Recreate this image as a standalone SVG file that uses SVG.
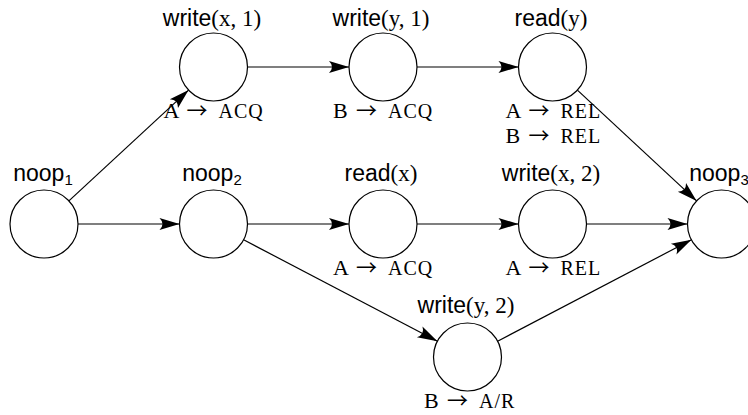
<svg xmlns="http://www.w3.org/2000/svg" width="748" height="415" viewBox="0 0 748 415">
<style>
.node circle{fill:#fff;stroke:#000;stroke-width:1.2}
.edges line{stroke:#000;stroke-width:1.2;marker-end:url(#arr)}
.lab{font-family:"Liberation Sans",Arial,sans-serif;font-size:23px;fill:#000;text-anchor:middle}
.m{font-family:"Liberation Serif","Times New Roman",serif;font-size:23px}
.sub{font-size:15px}
.ann{font-family:"Liberation Serif","Times New Roman",serif;font-size:22px;fill:#000}
.ar{font-family:"Noto Sans CJK SC","DejaVu Sans",sans-serif;font-size:21px}
.sc{font-size:20px;letter-spacing:1px}
</style>
<defs>
<marker id="arr" markerUnits="userSpaceOnUse" markerWidth="24" markerHeight="14" viewBox="-22 -7 24 14" refX="0" refY="0" orient="auto">
<path d="M0,0 L-20,-6 Q-14,0 -20,6 Z" fill="#000"/>
</marker>
</defs>
<g id="edges" class="edges">
<line x1="68.9" y1="200.9" x2="188.6" y2="90.1"/>
<line x1="78" y1="224" x2="179.5" y2="224"/>
<line x1="247.5" y1="67" x2="349" y2="67"/>
<line x1="417" y1="67" x2="518.5" y2="67"/>
<line x1="577.4" y1="90.1" x2="696.6" y2="200.9"/>
<line x1="247.5" y1="224" x2="349" y2="224"/>
<line x1="417" y1="224" x2="518.5" y2="224"/>
<line x1="586.5" y1="224" x2="687.5" y2="224"/>
<line x1="243.6" y1="239.8" x2="437.4" y2="341.2"/>
<line x1="497.6" y1="341.2" x2="691.4" y2="239.8"/>
</g>
<g id="noop1" class="node">
<circle cx="44" cy="224" r="34"/>
<text class="lab" x="43" y="181">noop<tspan class="sub" dy="4">1</tspan></text>
</g>
<g id="noop2" class="node">
<circle cx="213.5" cy="224" r="34"/>
<text class="lab" x="212" y="181">noop<tspan class="sub" dy="4">2</tspan></text>
</g>
<g id="write_x1" class="node">
<circle cx="213.5" cy="67" r="34"/>
<text class="lab" x="212" y="26">write<tspan class="m">(x, 1)</tspan></text>
<text class="ann" x="163.5" y="118">A<tspan class="ar" x="186.5">→</tspan><tspan class="sc" x="218.5">ACQ</tspan></text>
</g>
<g id="write_y1" class="node">
<circle cx="383" cy="67" r="34"/>
<text class="lab" x="381" y="26">write<tspan class="m">(y, 1)</tspan></text>
<text class="ann" x="333" y="118">B<tspan class="ar" x="356">→</tspan><tspan class="sc" x="388">ACQ</tspan></text>
</g>
<g id="read_y" class="node">
<circle cx="552.5" cy="67" r="34"/>
<text class="lab" x="551" y="26">read<tspan class="m">(y)</tspan></text>
<text class="ann" x="505.5" y="118">A<tspan class="ar" x="528.5">→</tspan><tspan class="sc" x="560.5">REL</tspan></text>
<text class="ann" x="505.5" y="143">B<tspan class="ar" x="528.5">→</tspan><tspan class="sc" x="560.5">REL</tspan></text>
</g>
<g id="read_x" class="node">
<circle cx="383" cy="224" r="34"/>
<text class="lab" x="381" y="181">read<tspan class="m">(x)</tspan></text>
<text class="ann" x="333" y="275">A<tspan class="ar" x="356">→</tspan><tspan class="sc" x="388">ACQ</tspan></text>
</g>
<g id="write_x2" class="node">
<circle cx="552.5" cy="224" r="34"/>
<text class="lab" x="551" y="181">write<tspan class="m">(x, 2)</tspan></text>
<text class="ann" x="505.5" y="275">A<tspan class="ar" x="528.5">→</tspan><tspan class="sc" x="560.5">REL</tspan></text>
</g>
<g id="noop3" class="node">
<circle cx="721.5" cy="224" r="34"/>
<text class="lab" x="719" y="181">noop<tspan class="sub" dy="4">3</tspan></text>
</g>
<g id="write_y2" class="node">
<circle cx="467.5" cy="357" r="34"/>
<text class="lab" x="466" y="313">write<tspan class="m">(y, 2)</tspan></text>
<text class="ann" x="424" y="408">B<tspan class="ar" x="447">→</tspan><tspan class="sc" x="479">A/R</tspan></text>
</g>
</svg>
